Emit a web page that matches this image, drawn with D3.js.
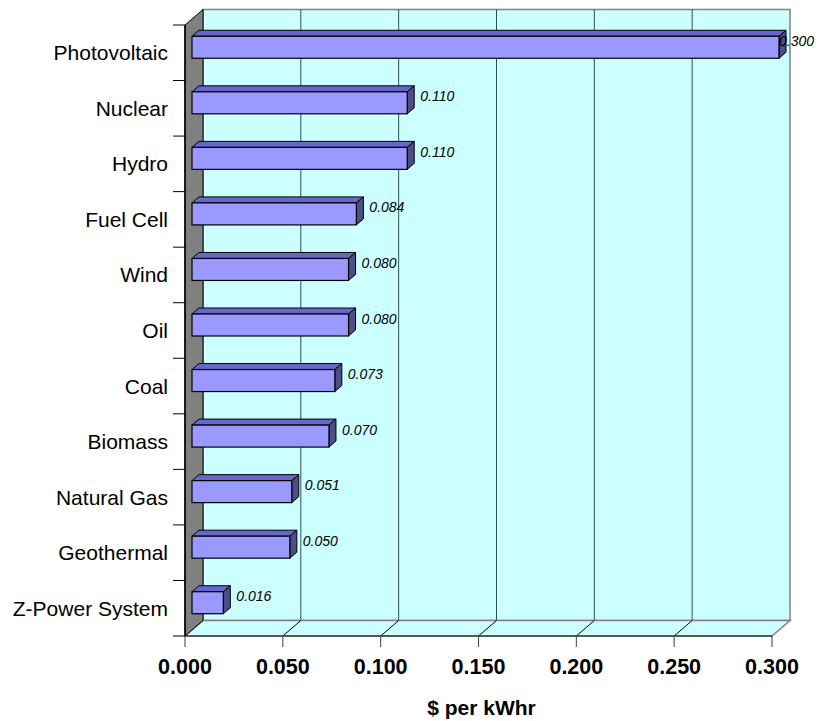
<!DOCTYPE html>
<html>
<head>
<meta charset="utf-8">
<script src="https://cdn.jsdelivr.net/npm/d3@7"></script>
<style>
  body { margin: 0; background: #fff; }
  text { font-family: Arial, "Liberation Sans", sans-serif; }
</style>
</head>
<body>
<div id="chart"></div>
<script>
var categories = ["Photovoltaic", "Nuclear", "Hydro", "Fuel Cell", "Wind", "Oil", "Coal",
                  "Biomass", "Natural Gas", "Geothermal", "Z-Power System"];
var costs = [0.300, 0.110, 0.110, 0.084, 0.080, 0.080, 0.073, 0.070, 0.051, 0.050, 0.016];
var tickValues = [0, 0.05, 0.10, 0.15, 0.20, 0.25, 0.30];

var width = 827, height = 721;
var depth = {dx: 18, dy: -15.5};   // wall depth
var barOff = {dx: 7, dy: -6};      // bar front sits a bit back
var barDepth = {dx: 7, dy: -6};
var barH = 22;

var svg = d3.select("#chart")
    .append("svg")
        .attr("width", width)
        .attr("height", height);

var x = d3.scaleLinear()
    .domain([0, 0.3])
    .range([185, 772]);

var y = d3.scaleBand()
    .domain(categories)
    .range([25, 636]);

var x0 = x(0), x1 = x(0.3), yTop = y.range()[0], yBot = y.range()[1];

// back wall
svg.append("rect")
    .attr("x", x0 + depth.dx)
    .attr("y", yTop + depth.dy)
    .attr("width", x1 - x0)
    .attr("height", yBot - yTop)
    .attr("fill", "#ccffff")
    .attr("stroke", "#808080")
    .attr("stroke-width", 1.5);

// back grid lines
svg.selectAll(".grid")
    .data(tickValues.slice(1, -1))
    .enter()
    .append("line")
    .attr("x1", function(d) { return x(d) + depth.dx; })
    .attr("x2", function(d) { return x(d) + depth.dx; })
    .attr("y1", yTop + depth.dy)
    .attr("y2", yBot + depth.dy)
    .attr("stroke", "#2f4f4f")
    .attr("stroke-width", 1);

// floor
svg.append("polygon")
    .attr("points", [[x0, yBot], [x1, yBot], [x1 + depth.dx, yBot + depth.dy], [x0 + depth.dx, yBot + depth.dy]].join(" "))
    .attr("fill", "#ccffff")
    .attr("stroke", "#808080")
    .attr("stroke-width", 1.5);

svg.selectAll(".floorgrid")
    .data(tickValues.slice(1, -1))
    .enter()
    .append("line")
    .attr("x1", function(d) { return x(d); })
    .attr("x2", function(d) { return x(d) + depth.dx; })
    .attr("y1", yBot)
    .attr("y2", yBot + depth.dy)
    .attr("stroke", "#000")
    .attr("stroke-width", 1);

// left wall
svg.append("polygon")
    .attr("points", [[x0, yTop], [x0 + depth.dx, yTop + depth.dy], [x0 + depth.dx, yBot + depth.dy], [x0, yBot]].join(" "))
    .attr("fill", "#808080")
    .attr("stroke", "#000")
    .attr("stroke-width", 1);

// axes lines and ticks
svg.append("line")
    .attr("x1", x0).attr("x2", x0)
    .attr("y1", yTop).attr("y2", yBot)
    .attr("stroke", "#000").attr("stroke-width", 1.5);

svg.append("line")
    .attr("x1", x0).attr("x2", x1)
    .attr("y1", yBot).attr("y2", yBot)
    .attr("stroke", "#404040").attr("stroke-width", 1.5);

var bounds = categories.map(function(c) { return y(c); }).concat([yBot]);
svg.selectAll(".ytick")
    .data(bounds)
    .enter()
    .append("line")
    .attr("x1", x0 - 12).attr("x2", x0)
    .attr("y1", function(d) { return d; })
    .attr("y2", function(d) { return d; })
    .attr("stroke", "#000").attr("stroke-width", 1);

svg.selectAll(".xtick")
    .data(tickValues)
    .enter()
    .append("line")
    .attr("x1", function(d) { return x(d); })
    .attr("x2", function(d) { return x(d); })
    .attr("y1", yBot).attr("y2", yBot + 11)
    .attr("stroke", "#404040").attr("stroke-width", 1);

svg.selectAll(".xlabel")
    .data(tickValues)
    .enter()
    .append("text")
    .attr("x", function(d) { return x(d); })
    .attr("y", 674)
    .attr("text-anchor", "middle")
    .style("font-size", "21.5px")
    .style("font-weight", "bold")
    .text(function(d) { return d3.format(".3f")(d); });

svg.append("text")
    .attr("x", (x0 + x1) / 2 + 3)
    .attr("y", 715)
    .attr("text-anchor", "middle")
    .style("font-size", "21px")
    .style("font-weight", "bold")
    .text("$ per kWhr");

svg.selectAll(".ylabel")
    .data(categories)
    .enter()
    .append("text")
    .attr("x", 168)
    .attr("y", function(d) { return y(d) + y.bandwidth() / 2 + 7.5; })
    .attr("text-anchor", "end")
    .style("font-size", "21px")
    .text(function(d) { return d; });

// bars
var bars = svg.selectAll(".bar")
    .data(d3.zip(categories, costs))
    .enter()
    .append("g");

function frontTop(d) { return y(d[0]) + y.bandwidth() / 2 + barOff.dy - barH / 2 + 0.5; }

bars.append("polygon")
    .attr("points", function(d) {
        var l = x0 + barOff.dx, r = x(d[1]) + barOff.dx, t = frontTop(d);
        return [[l, t], [l + barDepth.dx, t + barDepth.dy], [r + barDepth.dx, t + barDepth.dy], [r, t]].join(" ");
    })
    .attr("fill", "#6666cc")
    .attr("stroke", "#000")
    .attr("stroke-width", 1);

bars.append("polygon")
    .attr("points", function(d) {
        var r = x(d[1]) + barOff.dx, t = frontTop(d);
        return [[r, t], [r + barDepth.dx, t + barDepth.dy], [r + barDepth.dx, t + barDepth.dy + barH], [r, t + barH]].join(" ");
    })
    .attr("fill", "#4d4d88")
    .attr("stroke", "#000")
    .attr("stroke-width", 1);

bars.append("rect")
    .attr("x", x0 + barOff.dx)
    .attr("y", frontTop)
    .attr("width", function(d) { return x(d[1]) - x0; })
    .attr("height", barH)
    .attr("fill", "#9999ff")
    .attr("stroke", "#000")
    .attr("stroke-width", 1.2);

// value labels; the last one is pushed back inside the picture
function fits(d) { return x(d[1]) + 20 + 36 <= width - 13; }
bars.append("text")
    .attr("x", function(d) { return fits(d) ? x(d[1]) + 20 : width - 13; })
    .attr("y", function(d) { return y(d[0]) + y.bandwidth() / 2 - 7; })
    .attr("text-anchor", function(d) { return fits(d) ? "start" : "end"; })
    .style("font-size", "14px")
    .style("font-style", "italic")
    .text(function(d) { return d3.format(".3f")(d[1]); });
</script>
</body>
</html>
